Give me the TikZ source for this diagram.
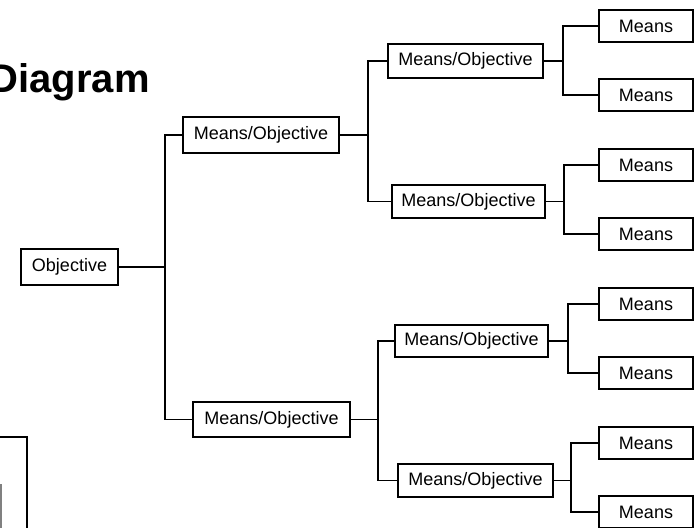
\documentclass[tikz,border=0pt]{standalone}
\usepackage{fontspec}
\setmainfont{Liberation Sans}
\begin{document}
\begin{tikzpicture}[x=1pt,y=-1pt,
  box/.style={draw, line width=1.2pt, rectangle, inner sep=0pt,
    font=\fontsize{18}{21}\selectfont},
  mobox/.style={box, minimum height=34pt},
  meansbox/.style={box, minimum width=94pt, minimum height=32pt},
  link/.style={line width=1.2pt}]
\useasboundingbox (0,0) rectangle (697,528);
\clip (0,0) rectangle (697,528);

% title
\node[anchor=base east, inner sep=0pt, font=\fontsize{40}{44}\bfseries] (title) at (150,92) {Diagram};

% frame pieces at the lower left
\draw[line width=2pt] (-10,437) -| (27,540);
\draw[gray, line width=1.5pt] (-30,485) -| (0.8,540);

% root
\node[box, minimum width=97pt, minimum height=36pt] (obj) at (69.5,267) {Objective};

% first level
\node[mobox, minimum width=156pt, minimum height=36pt] (mo1) at (261,135) {Means/Objective};
\node[mobox, minimum width=157pt, minimum height=35pt] (mo2) at (271.5,419.5) {Means/Objective};

% second level
\node[mobox, minimum width=155pt] (moa) at (465.5,61) {Means/Objective};
\node[mobox, minimum width=153pt, minimum height=33pt] (mob) at (468.5,201.5) {Means/Objective};
\node[mobox, minimum width=153pt, minimum height=32pt] (moc) at (471.5,341) {Means/Objective};
\node[mobox, minimum width=155pt, minimum height=33pt] (mod) at (475.5,480.5) {Means/Objective};

% leaves
\node[meansbox] (m1) at (646,26) {Means};
\node[meansbox] (m2) at (646,95) {Means};
\node[meansbox] (m3) at (646,165) {Means};
\node[meansbox] (m4) at (646,234) {Means};
\node[meansbox] (m5) at (646,304) {Means};
\node[meansbox] (m6) at (646,373) {Means};
\node[meansbox] (m7) at (646,443) {Means};
\node[meansbox] (m8) at (646,512) {Means};

% branch points
\coordinate (t0) at (165,267);
\coordinate (t1) at (368,135);
\coordinate (t2) at (378,419.5);
\coordinate (ta) at (563,61);
\coordinate (tb) at (564,201.5);
\coordinate (tc) at (568,341);
\coordinate (td) at (571,480.5);

% connectors
\draw[link] (obj.east) -- (t0);
\draw[link] (t0) |- (mo1.west);
\draw[link] (t0) |- (mo2.west);

\draw[link] (mo1.east) -- (t1);
\draw[link] (t1) |- (moa.west);
\draw[link] (t1) |- (mob.west);
\draw[link] (mo2.east) -- (t2);
\draw[link] (t2) |- (moc.west);
\draw[link] (t2) |- (mod.west);

\draw[link] (moa.east) -- (ta);
\draw[link] (ta) |- (m1.west);
\draw[link] (ta) |- (m2.west);
\draw[link] (mob.east) -- (tb);
\draw[link] (tb) |- (m3.west);
\draw[link] (tb) |- (m4.west);
\draw[link] (moc.east) -- (tc);
\draw[link] (tc) |- (m5.west);
\draw[link] (tc) |- (m6.west);
\draw[link] (mod.east) -- (td);
\draw[link] (td) |- (m7.west);
\draw[link] (td) |- (m8.west);
\end{tikzpicture}
\end{document}
